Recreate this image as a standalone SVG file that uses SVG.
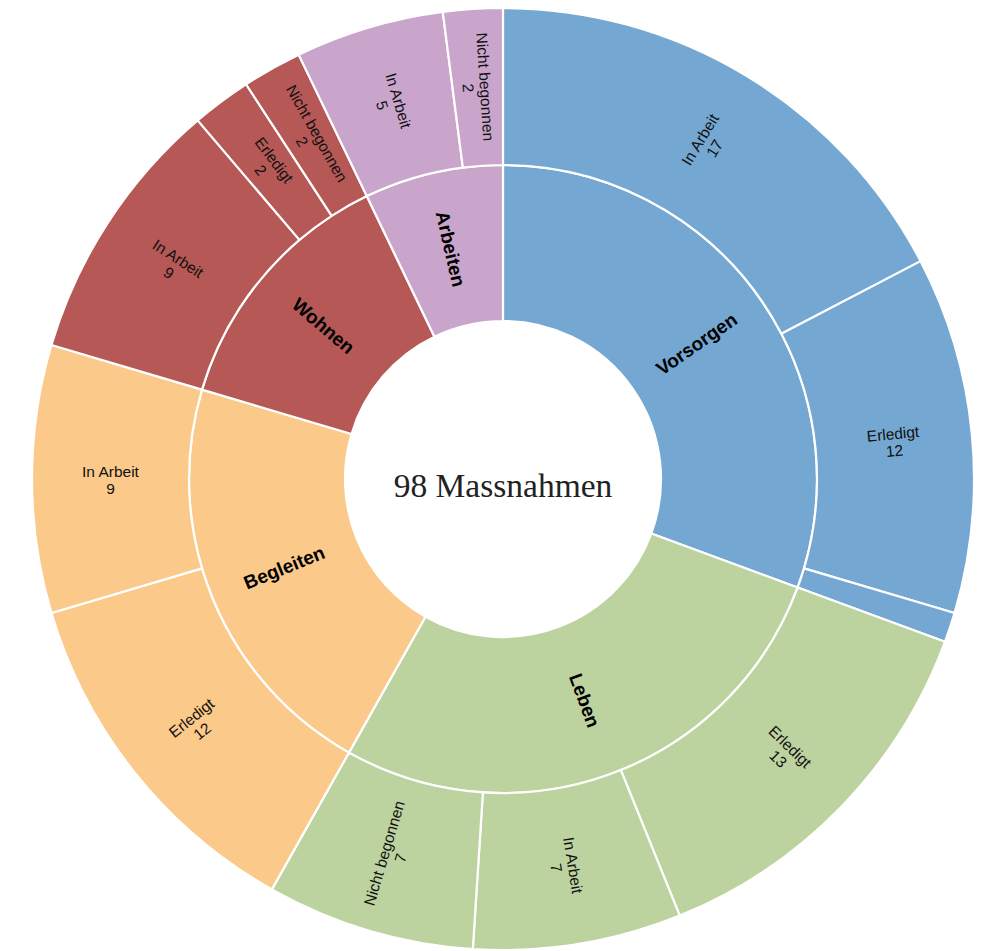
<svg xmlns="http://www.w3.org/2000/svg" width="985" height="951" viewBox="0 0 985 951">
<style>
.seg{stroke:#ffffff;stroke-width:2.2;stroke-linejoin:round}
.vor{fill:#74a7d2}.leb{fill:#bdd39f}.beg{fill:#fbc98a}.woh{fill:#b55856}.arb{fill:#c9a5cc}
.lbl{font-family:"Liberation Sans",Arial,sans-serif;font-size:15.5px;fill:#111111;text-anchor:middle}
.cat{font-family:"Liberation Sans",Arial,sans-serif;font-size:19px;font-weight:bold;fill:#000000;text-anchor:middle}
.center{font-family:"Liberation Serif","Times New Roman",serif;font-size:33.5px;fill:#222222;text-anchor:middle}
</style>
<rect width="985" height="951" fill="#ffffff"/>
<g id="connectors"></g>
<g id="inner-ring">
<g id="vorsorgen">
<path class="seg vor" d="M 503 165 A 314 314 0 0 1 797.68 587.45 L 651.28 533.57 A 158 158 0 0 0 503 321 Z"/>
<text class="cat" transform="translate(503 479) rotate(-34.898) translate(236 0)" y="6.5">Vorsorgen</text>
</g>
<g id="leben">
<path class="seg leb" d="M 797.68 587.45 A 314 314 0 0 1 348.91 752.59 L 425.47 616.67 A 158 158 0 0 0 651.28 533.57 Z"/>
<text class="cat" transform="translate(503 479) rotate(69.796) translate(236 0)" y="6.5">Leben</text>
</g>
<g id="begleiten">
<path class="seg beg" d="M 348.91 752.59 A 314 314 0 0 1 201.98 389.65 L 351.53 434.04 A 158 158 0 0 0 425.47 616.67 Z"/>
<text class="cat" transform="translate(503 479) rotate(157.959) translate(236 0) rotate(180)" y="6.5">Begleiten</text>
</g>
<g id="wohnen">
<path class="seg woh" d="M 201.98 389.65 A 314 314 0 0 1 366.76 196.10 L 434.45 336.65 A 158 158 0 0 0 351.53 434.04 Z"/>
<text class="cat" transform="translate(503 479) rotate(220.408) translate(236 0) rotate(180)" y="6.5">Wohnen</text>
</g>
<g id="arbeiten">
<path class="seg arb" d="M 366.76 196.10 A 314 314 0 0 1 503 165 L 503 321 A 158 158 0 0 0 434.45 336.65 Z"/>
<text class="cat" transform="translate(503 479) rotate(257.143) translate(236 0) rotate(180)" y="6.5">Arbeiten</text>
</g>
</g>
<g id="outer-ring">
<g id="vorsorgen-in-arbeit">
<path class="seg vor" d="M 503 8 A 471 471 0 0 1 920.59 261.14 L 781.39 333.76 A 314 314 0 0 0 503 165 Z"/>
<text class="lbl" transform="translate(503 479) rotate(-58.776) translate(392.5 0)"><tspan x="0" y="-2">In Arbeit</tspan><tspan x="0" y="15">17</tspan></text>
</g>
<g id="vorsorgen-erledigt">
<path class="seg vor" d="M 920.59 261.14 A 471 471 0 0 1 954.53 613.02 L 804.02 568.35 A 314 314 0 0 0 781.39 333.76 Z"/>
<text class="lbl" transform="translate(503 479) rotate(-5.510) translate(392.5 0)"><tspan x="0" y="-2">Erledigt</tspan><tspan x="0" y="15">12</tspan></text>
</g>
<g id="vorsorgen-weitere">
<path class="seg vor" d="M 954.53 613.02 A 471 471 0 0 1 945.02 641.67 L 797.68 587.45 A 314 314 0 0 0 804.02 568.35 Z"/>
</g>
<g id="leben-erledigt">
<path class="seg leb" d="M 945.02 641.67 A 471 471 0 0 1 679.75 915.57 L 620.83 770.05 A 314 314 0 0 0 797.68 587.45 Z"/>
<text class="lbl" transform="translate(503 479) rotate(44.082) translate(392.5 0)"><tspan x="0" y="-2">Erledigt</tspan><tspan x="0" y="15">13</tspan></text>
</g>
<g id="leben-in-arbeit">
<path class="seg leb" d="M 679.75 915.57 A 471 471 0 0 1 472.83 949.03 L 482.89 792.36 A 314 314 0 0 0 620.83 770.05 Z"/>
<text class="lbl" transform="translate(503 479) rotate(80.816) translate(392.5 0)"><tspan x="0" y="-2">In Arbeit</tspan><tspan x="0" y="15">7</tspan></text>
</g>
<g id="leben-nicht-begonnen">
<path class="seg leb" d="M 472.83 949.03 A 471 471 0 0 1 271.87 889.39 L 348.91 752.59 A 314 314 0 0 0 482.89 792.36 Z"/>
<text class="lbl" transform="translate(503 479) rotate(106.531) translate(392.5 0) rotate(180)"><tspan x="0" y="-2">Nicht begonnen</tspan><tspan x="0" y="15">7</tspan></text>
</g>
<g id="begleiten-erledigt">
<path class="seg beg" d="M 271.87 889.39 A 471 471 0 0 1 51.47 613.02 L 201.98 568.35 A 314 314 0 0 0 348.91 752.59 Z"/>
<text class="lbl" transform="translate(503 479) rotate(141.429) translate(392.5 0) rotate(180)"><tspan x="0" y="-2">Erledigt</tspan><tspan x="0" y="15">12</tspan></text>
</g>
<g id="begleiten-in-arbeit">
<path class="seg beg" d="M 51.47 613.02 A 471 471 0 0 1 51.47 344.98 L 201.98 389.65 A 314 314 0 0 0 201.98 568.35 Z"/>
<text class="lbl" transform="translate(503 479) rotate(180) translate(392.5 0) rotate(180)"><tspan x="0" y="-2">In Arbeit</tspan><tspan x="0" y="15">9</tspan></text>
</g>
<g id="wohnen-in-arbeit">
<path class="seg woh" d="M 51.47 344.98 A 471 471 0 0 1 197.68 120.36 L 299.46 239.91 A 314 314 0 0 0 201.98 389.65 Z"/>
<text class="lbl" transform="translate(503 479) rotate(213.061) translate(392.5 0) rotate(180)"><tspan x="0" y="-2">In Arbeit</tspan><tspan x="0" y="15">9</tspan></text>
</g>
<g id="wohnen-erledigt">
<path class="seg woh" d="M 197.68 120.36 A 471 471 0 0 1 246.06 84.26 L 331.70 215.84 A 314 314 0 0 0 299.46 239.91 Z"/>
<text class="lbl" transform="translate(503 479) rotate(233.265) translate(392.5 0) rotate(180)"><tspan x="0" y="-2">Erledigt</tspan><tspan x="0" y="15">2</tspan></text>
</g>
<g id="wohnen-nicht-begonnen">
<path class="seg woh" d="M 246.06 84.26 A 471 471 0 0 1 298.64 54.64 L 366.76 196.10 A 314 314 0 0 0 331.70 215.84 Z"/>
<text class="lbl" transform="translate(503 479) rotate(240.612) translate(392.5 0) rotate(180)"><tspan x="0" y="-2">Nicht begonnen</tspan><tspan x="0" y="15">2</tspan></text>
</g>
<g id="arbeiten-in-arbeit">
<path class="seg arb" d="M 298.64 54.64 A 471 471 0 0 1 442.77 11.87 L 462.85 167.58 A 314 314 0 0 0 366.76 196.10 Z"/>
<text class="lbl" transform="translate(503 479) rotate(253.469) translate(392.5 0) rotate(180)"><tspan x="0" y="-2">In Arbeit</tspan><tspan x="0" y="15">5</tspan></text>
</g>
<g id="arbeiten-nicht-begonnen">
<path class="seg arb" d="M 442.77 11.87 A 471 471 0 0 1 503 8 L 503 165 A 314 314 0 0 0 462.85 167.58 Z"/>
<text class="lbl" transform="translate(503 479) rotate(266.327) translate(392.5 0) rotate(180)"><tspan x="0" y="-2">Nicht begonnen</tspan><tspan x="0" y="15">2</tspan></text>
</g>
</g>
<g id="center">
<text class="center" x="503" y="497">98 Massnahmen</text>
</g>
</svg>
